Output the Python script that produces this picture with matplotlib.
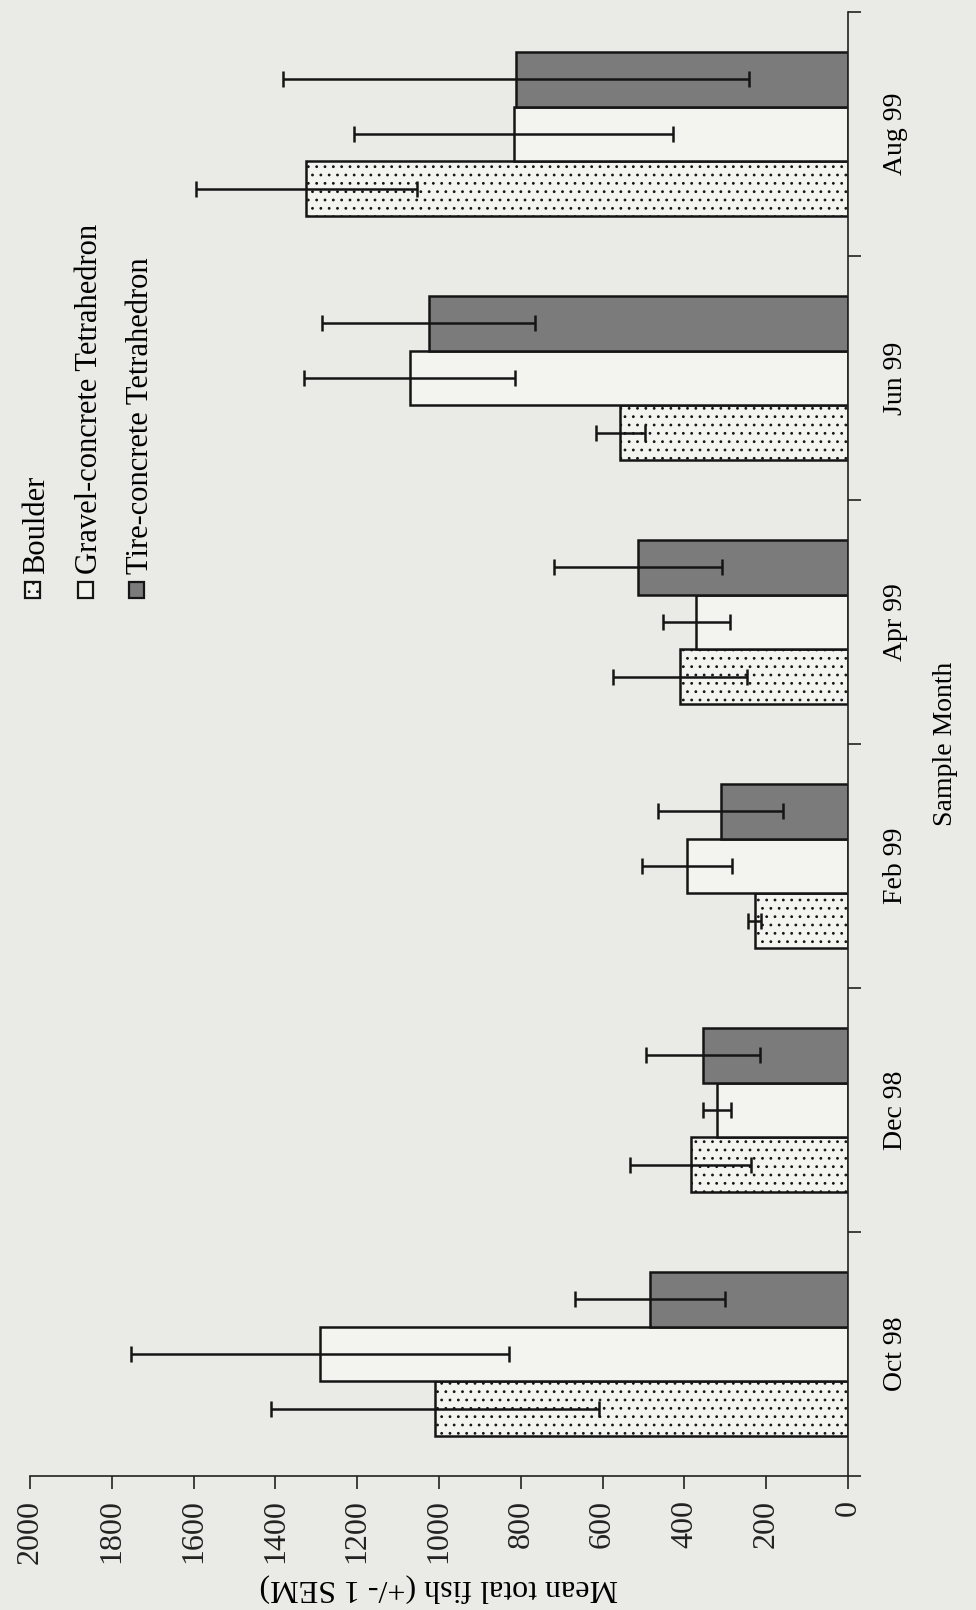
import matplotlib
matplotlib.use("Agg")
import matplotlib.pyplot as plt
from matplotlib.patches import Rectangle
import numpy as np

months = ["Oct 98", "Dec 98", "Feb 99", "Apr 99", "Jun 99", "Aug 99"]
series = ["Boulder", "Gravel-concrete Tetrahedron", "Tire-concrete Tetrahedron"]
boulder = [1010, 385, 228, 411, 557, 1325]
boulder_sem = [400, 147, 16, 163, 60, 270]
gravel = [1290, 320, 393, 371, 1072, 817]
gravel_sem = [462, 35, 110, 82, 258, 390]
tire = [484, 355, 311, 514, 1025, 811]
tire_sem = [183, 140, 153, 205, 260, 570]
value_ticks = list(range(0, 2001, 200))

bg = "#eaeae7"
plt.rcParams["font.family"] = ["Liberation Serif", "DejaVu Serif"]
plt.rcParams["hatch.linewidth"] = 0.8
plt.rcParams["hatch.color"] = "#111111"

W, H = 976, 1610
fig = plt.figure(figsize=(W / 100, H / 100), dpi=100, facecolor=bg)
ax = fig.add_axes([30 / W, 134 / H, 818 / W, 1464 / H], facecolor=bg)

pos = np.arange(len(months))
bw = 0.225
styles = [
    dict(color="#f3f3f0", hatch=".."),
    dict(color="#f3f3f0", hatch=None),
    dict(color="#7b7b7b", hatch=None),
]
ekw = dict(ecolor="#151515", elinewidth=1.8, capsize=6, capthick=1.8)
for k, (vals, sem) in enumerate([(boulder, boulder_sem), (gravel, gravel_sem), (tire, tire_sem)]):
    ax.barh(pos + (k - 1) * bw, vals, height=bw, xerr=sem,
            color=styles[k]["color"], hatch=styles[k]["hatch"],
            edgecolor="#151515", linewidth=1.8, error_kw=ekw, zorder=2)

# value axis (rotated page: runs right to left along the bottom)
ax.set_xlim(2000, 0)
ax.set_xticks(value_ticks)
ax.set_xticklabels([str(v) for v in value_ticks], rotation=90, fontsize=23)
ax.tick_params(axis="x", direction="out", length=9, width=1.2, pad=8, colors="#222222")
ax.set_xlabel("Mean total fish (+/- 1 SEM)", rotation=180, fontsize=23, labelpad=7)

# category axis on the right
ax.set_ylim(-0.5, len(months) - 0.5)
ax.yaxis.tick_right()
ax.set_yticks(np.arange(-0.5, len(months), 1.0))
ax.set_yticklabels([])
ax.set_yticks(pos, minor=True)
ax.set_yticklabels(months, minor=True, fontsize=20)
ax.tick_params(axis="y", which="major", direction="out", length=9, width=1.2, colors="#222222")
ax.tick_params(axis="y", which="minor", length=0, pad=25)
for lbl in ax.get_yticklabels(minor=True):
    lbl.set_rotation(90)
    lbl.set_va("center")
ax.yaxis.set_label_position("right")
ax.set_ylabel("Sample Month", rotation=90, fontsize=20, labelpad=18)

for s in ["left", "top"]:
    ax.spines[s].set_visible(False)
for s in ["right", "bottom"]:
    ax.spines[s].set_linewidth(1.2)
    ax.spines[s].set_color("#222222")

# legend, drawn sideways like the page
for k, name in enumerate(series):
    cx = [32, 85, 136][k]
    fig.add_artist(Rectangle(((cx - 7) / W, 1 - 598 / H), 15 / W, 16 / H,
                             transform=fig.transFigure, facecolor=styles[k]["color"],
                             hatch=styles[k]["hatch"], edgecolor="#151515", linewidth=1.6))
    fig.text((cx + 5) / W, 1 - 574 / H, name, rotation=90, ha="center", va="bottom",
             fontsize=22)

fig.savefig("out.png", dpi=100, facecolor=bg)
